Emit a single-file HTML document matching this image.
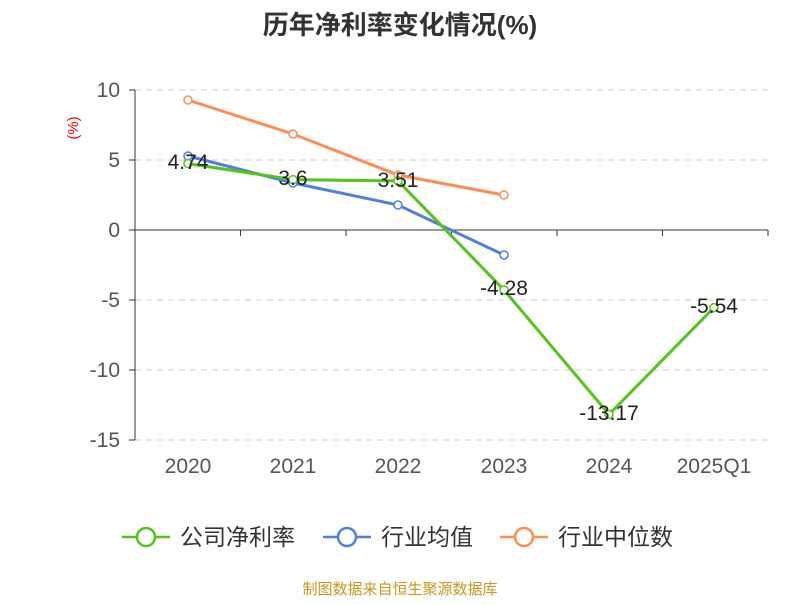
<!DOCTYPE html>
<html><head><meta charset="utf-8"><style>
body{margin:0;width:800px;height:600px;background:#fff;overflow:hidden}
text{font-family:"Liberation Sans","Noto Sans CJK SC",sans-serif}
</style></head><body>
<svg width="800" height="600" xmlns="http://www.w3.org/2000/svg">
<text x="400" y="34" text-anchor="middle" font-size="26" font-weight="bold" fill="#333">历年净利率变化情况(%)</text>
<text x="78" y="128" font-size="15" fill="#e00" transform="rotate(-90 78 128)" text-anchor="middle">(%)</text>
<g stroke="#ccc" stroke-dasharray="6,5" stroke-width="1">
<line x1="135" y1="90" x2="768" y2="90"/><line x1="135" y1="160" x2="768" y2="160"/>
<line x1="135" y1="300" x2="768" y2="300"/><line x1="135" y1="370" x2="768" y2="370"/><line x1="135" y1="440" x2="768" y2="440"/>
</g>
<g stroke="#333" stroke-width="1">
<line x1="135" y1="90" x2="135" y2="440"/>
<line x1="129" y1="90" x2="135" y2="90"/><line x1="129" y1="160" x2="135" y2="160"/><line x1="129" y1="230" x2="135" y2="230"/>
<line x1="129" y1="300" x2="135" y2="300"/><line x1="129" y1="370" x2="135" y2="370"/><line x1="129" y1="440" x2="135" y2="440"/>
<line x1="135" y1="230" x2="768" y2="230"/>
<line x1="135" y1="230" x2="135" y2="236"/><line x1="240.5" y1="230" x2="240.5" y2="236"/><line x1="346" y1="230" x2="346" y2="236"/>
<line x1="451.5" y1="230" x2="451.5" y2="236"/><line x1="557" y1="230" x2="557" y2="236"/><line x1="662.5" y1="230" x2="662.5" y2="236"/><line x1="768" y1="230" x2="768" y2="236"/>
</g>
<g font-size="21" fill="#555" text-anchor="end">
<text x="120" y="97">10</text><text x="120" y="167">5</text><text x="120" y="237">0</text>
<text x="120" y="307">-5</text><text x="120" y="377">-10</text><text x="120" y="447">-15</text>
</g>
<g font-size="21" fill="#555" text-anchor="middle">
<text x="188" y="473">2020</text><text x="293" y="473">2021</text><text x="398" y="473">2022</text>
<text x="504" y="473">2023</text><text x="609" y="473">2024</text><text x="714" y="473">2025Q1</text>
</g>
<polyline fill="none" stroke="#ff8c55" stroke-width="3" points="188,100 293,134 398,175 504,195"/>
<polyline fill="none" stroke="#4f7fe0" stroke-width="3" points="188,156 293,183 398,205 504,255"/>
<polyline fill="none" stroke="#52c41a" stroke-width="3" points="188,163.6 293,179.6 398,180.9 504,289.9 609,414.4 714,307.6"/>
<g fill="#fff" stroke-width="1.5">
<g stroke="#ff8c55"><circle cx="188" cy="100" r="4"/><circle cx="293" cy="134" r="4"/><circle cx="398" cy="175" r="4"/><circle cx="504" cy="195" r="4"/></g>
<g stroke="#4f7fe0"><circle cx="188" cy="156" r="4"/><circle cx="293" cy="183" r="4"/><circle cx="398" cy="205" r="4"/><circle cx="504" cy="255" r="4"/></g>
<g stroke="#52c41a"><circle cx="188" cy="163.6" r="4"/><circle cx="293" cy="179.6" r="4"/><circle cx="398" cy="180.9" r="4"/><circle cx="504" cy="289.9" r="4"/><circle cx="609" cy="414.4" r="4"/><circle cx="714" cy="307.6" r="4"/></g>
</g>
<g font-size="21" fill="#222" text-anchor="middle">
<text x="188" y="169">4.74</text><text x="293" y="185">3.6</text><text x="398" y="187">3.51</text>
<text x="504" y="295">-4.28</text><text x="609" y="420">-13.17</text><text x="714" y="313">-5.54</text>
</g>
<g stroke-width="2.5" fill="#fff">
<line x1="122" y1="537" x2="170" y2="537" stroke="#52c41a"/><circle cx="146" cy="537" r="9" stroke="#52c41a"/>
<line x1="323" y1="537" x2="371" y2="537" stroke="#4f7fe0"/><circle cx="347" cy="537" r="9" stroke="#4f7fe0"/>
<line x1="500" y1="537" x2="548" y2="537" stroke="#ff8c55"/><circle cx="524" cy="537" r="9" stroke="#ff8c55"/>
</g>
<g font-size="23" fill="#333">
<text x="180" y="545">公司净利率</text><text x="381" y="545">行业均值</text><text x="558" y="545">行业中位数</text>
</g>
<text x="400" y="594" text-anchor="middle" font-size="15" fill="#c8961e">制图数据来自恒生聚源数据库</text>
</svg>
</body></html>
